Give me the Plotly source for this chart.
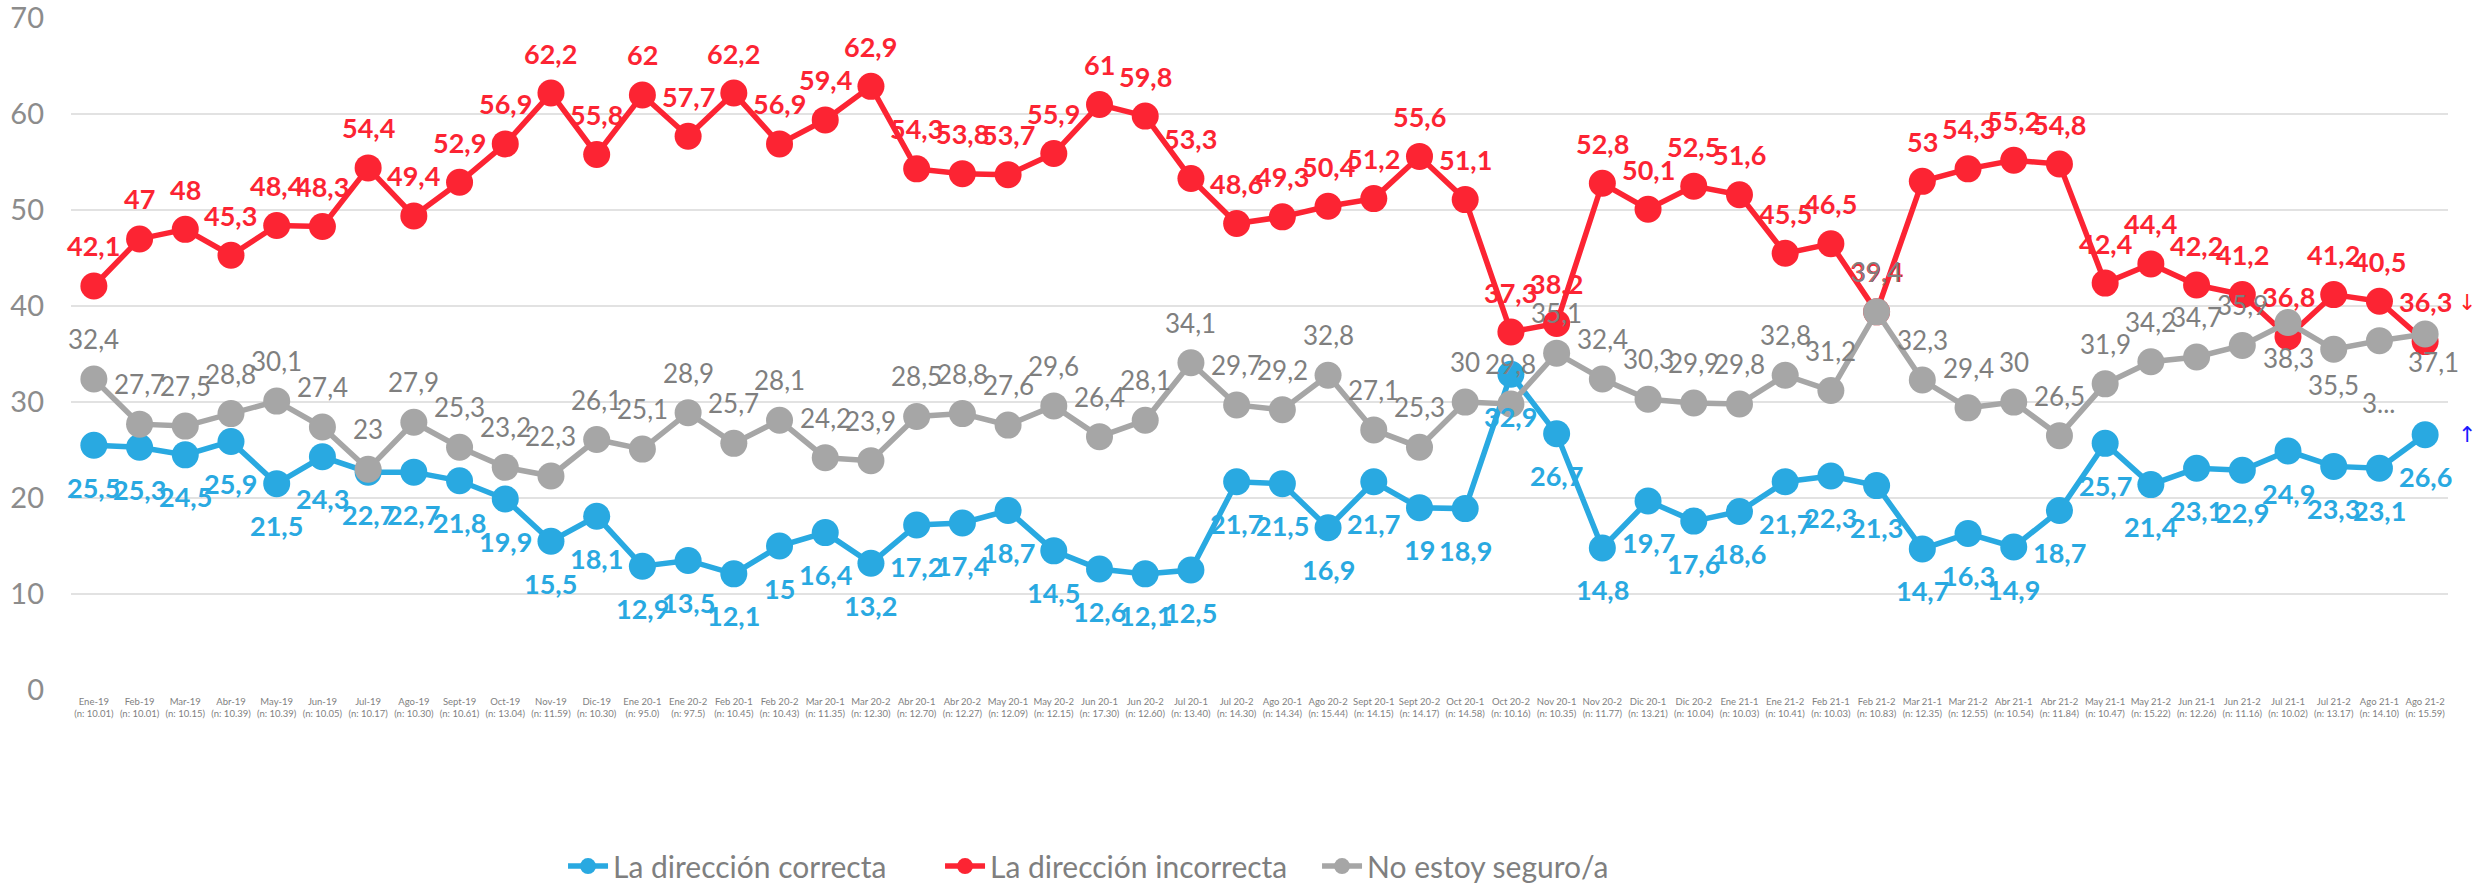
import plotly.graph_objects as go

categories = [
    "Ene-19<br>(n: 10.01)", "Feb-19<br>(n: 10.01)", "Mar-19<br>(n: 10.15)", "Abr-19<br>(n: 10.39)",
    "May-19<br>(n: 10.39)", "Jun-19<br>(n: 10.05)", "Jul-19<br>(n: 10.17)", "Ago-19<br>(n: 10.30)",
    "Sept-19<br>(n: 10.61)", "Oct-19<br>(n: 13.04)", "Nov-19<br>(n: 11.59)", "Dic-19<br>(n: 10.30)",
    "Ene 20-1<br>(n: 95.0)", "Ene 20-2<br>(n: 97.5)", "Feb 20-1<br>(n: 10.45)", "Feb 20-2<br>(n: 10.43)",
    "Mar 20-1<br>(n: 11.35)", "Mar 20-2<br>(n: 12.30)", "Abr 20-1<br>(n: 12.70)", "Abr 20-2<br>(n: 12.27)",
    "May 20-1<br>(n: 12.09)", "May 20-2<br>(n: 12.15)", "Jun 20-1<br>(n: 17.30)", "Jun 20-2<br>(n: 12.60)",
    "Jul 20-1<br>(n: 13.40)", "Jul 20-2<br>(n: 14.30)", "Ago 20-1<br>(n: 14.34)", "Ago 20-2<br>(n: 15.44)",
    "Sept 20-1<br>(n: 14.15)", "Sept 20-2<br>(n: 14.17)", "Oct 20-1<br>(n: 14.58)", "Oct 20-2<br>(n: 10.16)",
    "Nov 20-1<br>(n: 10.35)", "Nov 20-2<br>(n: 11.77)", "Dic 20-1<br>(n: 13.21)", "Dic 20-2<br>(n: 10.04)",
    "Ene 21-1<br>(n: 10.03)", "Ene 21-2<br>(n: 10.41)", "Feb 21-1<br>(n: 10.03)", "Feb 21-2<br>(n: 10.83)",
    "Mar 21-1<br>(n: 12.35)", "Mar 21-2<br>(n: 12.55)", "Abr 21-1<br>(n: 10.54)", "Abr 21-2<br>(n: 11.84)",
    "May 21-1<br>(n: 10.47)", "May 21-2<br>(n: 15.22)", "Jun 21-1<br>(n: 12.26)", "Jun 21-2<br>(n: 11.16)",
    "Jul 21-1<br>(n: 10.02)", "Jul 21-2<br>(n: 13.17)", "Ago 21-1<br>(n: 14.10)", "Ago 21-2<br>(n: 15.59)",
]

correcta = [25.5, 25.3, 24.5, 25.9, 21.5, 24.3, 22.7, 22.7, 21.8, 19.9, 15.5, 18.1,
            12.9, 13.5, 12.1, 15, 16.4, 13.2, 17.2, 17.4, 18.7, 14.5, 12.6, 12.1,
            12.5, 21.7, 21.5, 16.9, 21.7, 19, 18.9, 32.9, 26.7, 14.8, 19.7, 17.6,
            18.6, 21.7, 22.3, 21.3, 14.7, 16.3, 14.9, 18.7, 25.7, 21.4, 23.1, 22.9,
            24.9, 23.3, 23.1, 26.6]

incorrecta = [42.1, 47, 48, 45.3, 48.4, 48.3, 54.4, 49.4, 52.9, 56.9, 62.2, 55.8,
              62, 57.7, 62.2, 56.9, 59.4, 62.9, 54.3, 53.8, 53.7, 55.9, 61, 59.8,
              53.3, 48.6, 49.3, 50.4, 51.2, 55.6, 51.1, 37.3, 38.2, 52.8, 50.1, 52.5,
              51.6, 45.5, 46.5, 39.4, 53, 54.3, 55.2, 54.8, 42.4, 44.4, 42.2, 41.2,
              36.8, 41.2, 40.5, 36.3]

no_seguro = [32.4, 27.7, 27.5, 28.8, 30.1, 27.4, 23, 27.9, 25.3, 23.2, 22.3, 26.1,
             25.1, 28.9, 25.7, 28.1, 24.2, 23.9, 28.5, 28.8, 27.6, 29.6, 26.4, 28.1,
             34.1, 29.7, 29.2, 32.8, 27.1, 25.3, 30, 29.8, 35.1, 32.4, 30.3, 29.9,
             29.8, 32.8, 31.2, 39.4, 32.3, 29.4, 30, 26.5, 31.9, 34.2, 34.7, 35.9,
             38.3, 35.5, 36.4, 37.1]

series_names = ["La dirección correcta", "La dirección incorrecta", "No estoy seguro/a"]

BLUE = "#29A9E1"
RED = "#FC2433"
GRAY = "#A6A6A6"
LABEL_GRAY = "#7F7F7F"
FONT = "Lato"


def fmt(v):
    return f"{v:g}".replace(".", ",")


fig = go.Figure()
for name, vals, col in [(series_names[0], correcta, BLUE),
                        (series_names[1], incorrecta, RED),
                        (series_names[2], no_seguro, GRAY)]:
    fig.add_trace(go.Scatter(
        x=categories, y=vals, name=name, mode="lines+markers",
        line=dict(color=col, width=5.5),
        marker=dict(color=col, size=27),
        cliponaxis=False,
    ))

annotations = []
for c, v in zip(categories, incorrecta):
    annotations.append(dict(x=c, y=v, text=fmt(v), showarrow=False, yshift=40,
                            font=dict(family=FONT, size=27, color=RED, weight="bold")))
for c, v in zip(categories, correcta):
    annotations.append(dict(x=c, y=v, text=fmt(v), showarrow=False, yshift=-42,
                            font=dict(family=FONT, size=27, color=BLUE, weight="bold")))
n = len(categories)
for i, (c, v) in enumerate(zip(categories, no_seguro)):
    txt = fmt(v)
    ys = 40
    xs = 0
    if i >= n - 4:
        ys = -36
    if i == n - 2:
        txt = "3..."
        ys = -62
    if i == n - 1:
        xs = 8
        ys = -28
    annotations.append(dict(x=c, y=v, text=txt, showarrow=False, yshift=ys, xshift=xs,
                            font=dict(family=FONT, size=26, color=LABEL_GRAY)))

annotations.append(dict(xref="paper", yref="y", x=1.0125, y=40.4, text="↓", showarrow=False,
                        font=dict(family="DejaVu Sans", size=22, color="#FF1F1F")))
annotations.append(dict(xref="paper", yref="y", x=1.0125, y=26.6, text="↑", showarrow=False,
                        font=dict(family="DejaVu Sans", size=22, color="#1A1AFF")))

fig.update_layout(
    width=2489, height=886,
    margin=dict(l=71, r=41, t=18, b=196, autoexpand=False),
    paper_bgcolor="white", plot_bgcolor="white",
    font=dict(family=FONT, color=LABEL_GRAY),
    showlegend=True,
    legend=dict(orientation="h", x=0.207, xanchor="left", y=-0.262, yanchor="middle",
                font=dict(family=FONT, size=30, color=LABEL_GRAY),
                itemwidth=40, entrywidth=322, entrywidthmode="pixels", traceorder="normal"),
    annotations=annotations,
)
fig.update_xaxes(type="category", range=[-0.5, n - 0.5], showgrid=False, showline=False,
                 zeroline=False, tickangle=0, ticks="", automargin=False, ticklabelstandoff=4,
                 tickfont=dict(family=FONT, size=9.5, color=LABEL_GRAY))
fig.update_yaxes(range=[0, 70.02], tickvals=[0, 10, 20, 30, 40, 50, 60, 70],
                 showgrid=True, gridcolor="#E2E2E2", gridwidth=2, automargin=False,
                 zeroline=False, showline=False, ticks="", ticklabelstandoff=26,
                 ticklabeloverflow="allow",
                 tickfont=dict(family=FONT, size=29, color="#8C8C8C"))

fig.write_html("out.html",
               config={"displayModeBar": False},
               post_script="document.body.style.margin='0';document.body.style.overflow='hidden';")
